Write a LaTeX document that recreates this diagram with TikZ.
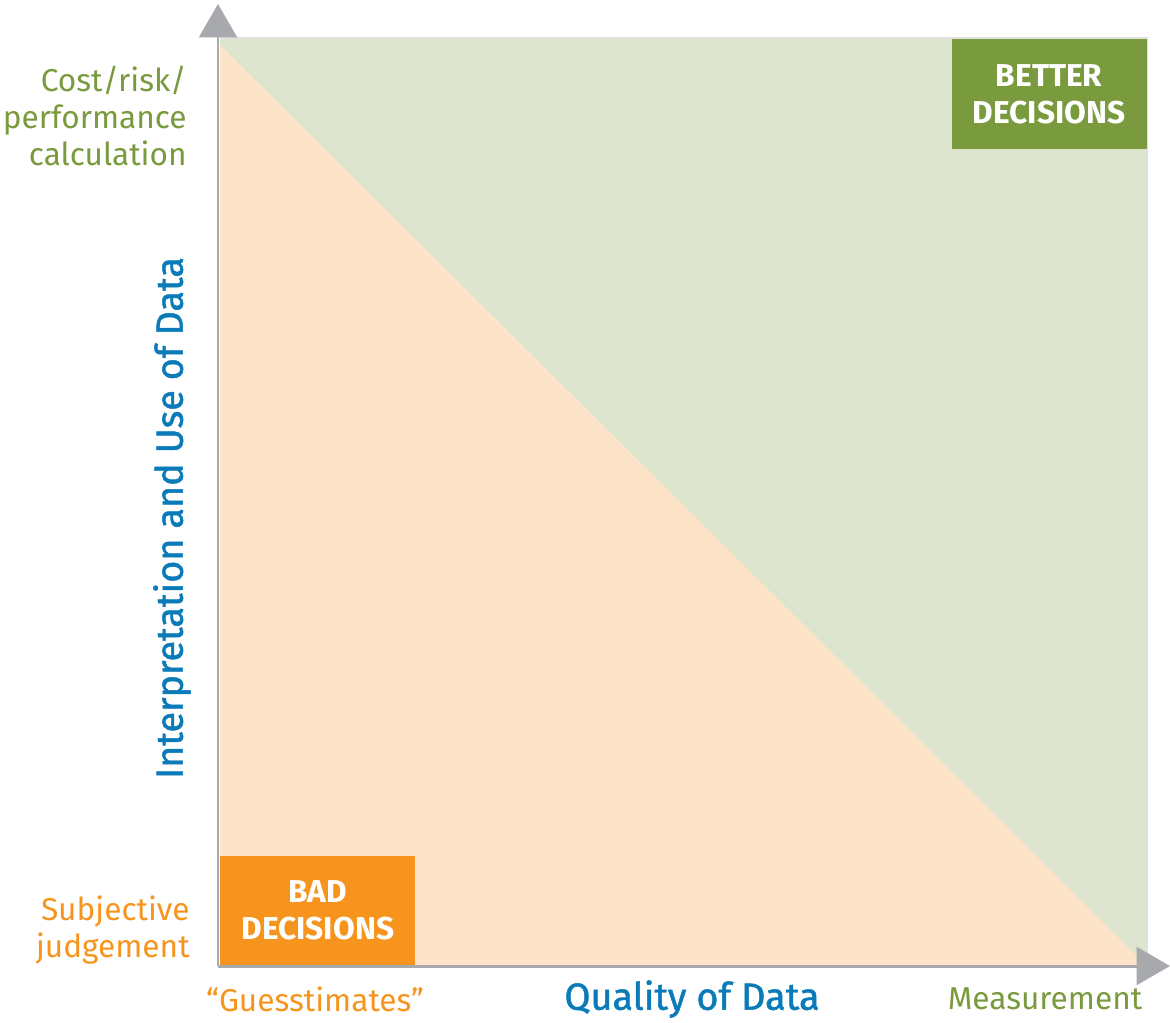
\documentclass[tikz,border=0pt]{standalone}
\usepackage{fontspec}
\setmainfont{Fira Sans}
\newfontfamily\axisfont[FakeBold=1.3]{Fira Sans}
\usetikzlibrary{arrows.meta,positioning}

\definecolor{oliveGreen}{HTML}{7A9A3E}
\definecolor{paleGreen}{HTML}{DEE5CF}
\definecolor{decOrange}{HTML}{F7941D}
\definecolor{paleOrange}{HTML}{FDE3C8}
\definecolor{axisBlue}{HTML}{0A7BB8}
\definecolor{axisGray}{HTML}{A7A9AC}

\tikzset{
  axisline/.style={draw=axisGray, line width=1.7pt,
    -{Triangle[width=21.5pt,length=19pt]}},
  decbox/.style={minimum width=3.9cm, minimum height=2.2cm, inner sep=0pt,
    text=white, align=center, font=\fontsize{18}{21}\selectfont\bfseries},
  ticklabel/.style={align=right, inner sep=0pt, font=\fontsize{18}{21}\selectfont},
  axislabel/.style={text=axisBlue, inner sep=0pt, font=\axisfont\fontsize{21.5}{25}\selectfont}
}

\begin{document}
\begin{tikzpicture}[x=0.02cm,y=-0.02cm]
\useasboundingbox (0,0) rectangle (1170,1022);

\coordinate (O) at (218,966);
\coordinate (TL) at (220,38);
\coordinate (TR) at (1147,38);
\coordinate (BR) at (1147,966);
\coordinate (ytip) at (218,4);
\coordinate (xtip) at (1170,966);

% regions
\fill[paleGreen] (TL) rectangle (BR);
\fill[paleOrange] (220,45) -- (BR) -- (220,966) -- cycle;
\draw[black!12, line width=0.6pt] (TL) -- (TR) -- (BR);

\node[decbox, fill=oliveGreen, anchor=north east] (better) at (1147,39) {BETTER\\DECISIONS};
\node[decbox, fill=decOrange, anchor=south west] (bad) at (220,966) {BAD\\DECISIONS};

% axes
\draw[axisline] (O) -- (ytip);
\draw[axisline] (O) -- (xtip);

% labels
\node[ticklabel, text=oliveGreen, anchor=east] (costlbl) at (187,116) {Cost/risk/\\performance\\calculation};
\node[ticklabel, text=decOrange, anchor=east] (subjlbl) at (190,930) {Subjective\\judgement};
\node[ticklabel, text=decOrange] (guesslbl) at (315,999) {“Guesstimates”};
\node[ticklabel, text=oliveGreen] (measlbl) at (1045,999) {Measurement};
\node[axislabel] (xlbl) at (692,999) {Quality of Data};
\node[axislabel, rotate=90] (ylbl) at (172,518) {Interpretation and Use of Data};
\end{tikzpicture}
\end{document}
